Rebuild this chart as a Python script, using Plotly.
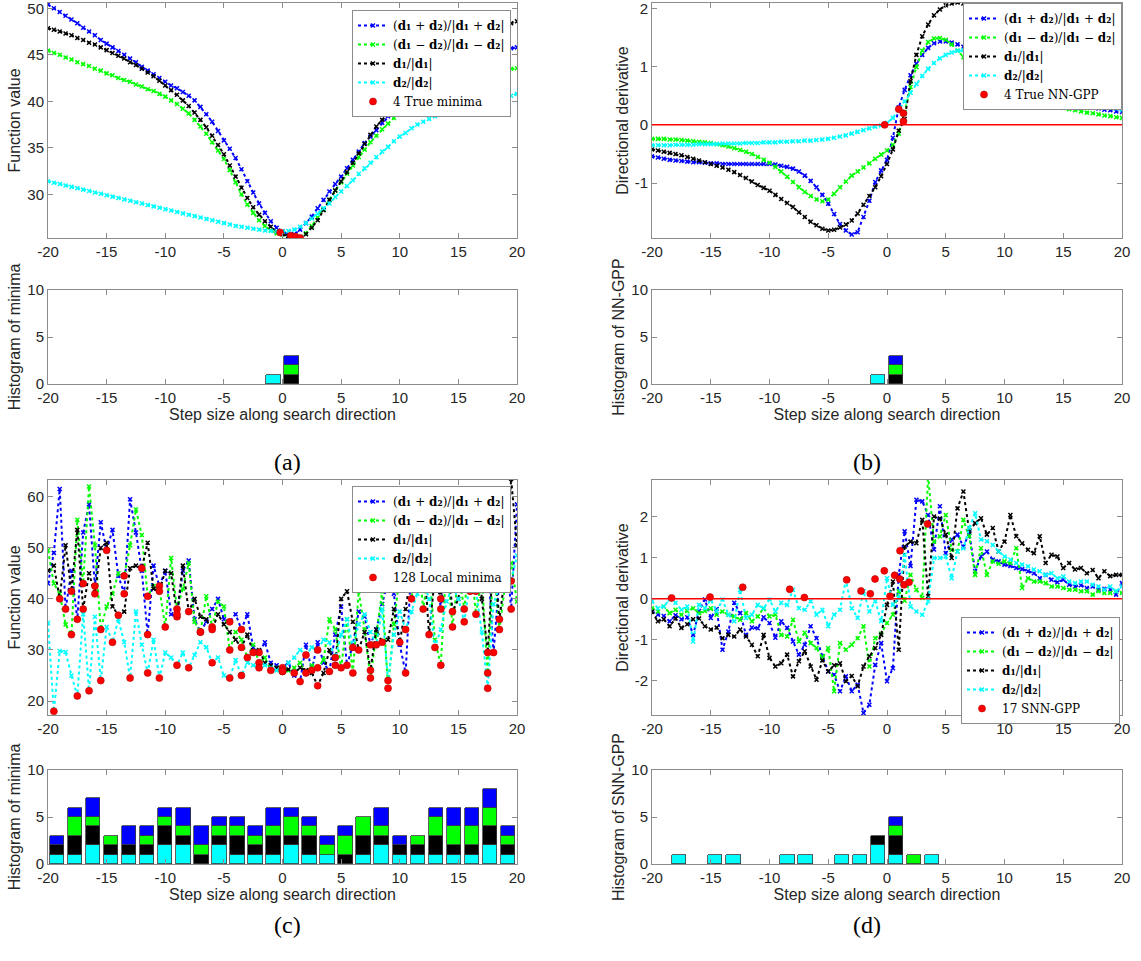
import plotly.graph_objects as go

# ---------------- data ----------------
step = [-20.0, -19.5, -19.0, -18.5, -18.0, -17.5, -17.0, -16.5, -16.0, -15.5,
        -15.0, -14.5, -14.0, -13.5, -13.0, -12.5, -12.0, -11.5, -11.0, -10.5,
        -10.0, -9.5, -9.0, -8.5, -8.0, -7.5, -7.0, -6.5, -6.0, -5.5,
        -5.0, -4.5, -4.0, -3.5, -3.0, -2.5, -2.0, -1.5, -1.0, -0.5,
        0.0, 0.5, 1.0, 1.5, 2.0, 2.5, 3.0, 3.5, 4.0, 4.5,
        5.0, 5.5, 6.0, 6.5, 7.0, 7.5, 8.0, 8.5, 9.0, 9.5,
        10.0, 10.5, 11.0, 11.5, 12.0, 12.5, 13.0, 13.5, 14.0, 14.5,
        15.0, 15.5, 16.0, 16.5, 17.0, 17.5, 18.0, 18.5, 19.0, 19.5, 20.0]

bin_centers = [-19.23, -17.69, -16.15, -14.62, -13.08, -11.54, -10.0, -8.46, -6.92, -5.38,
               -3.85, -2.31, -0.77, 0.77, 2.31, 3.85, 5.38, 6.92, 8.46, 10.0,
               11.54, 13.08, 14.62, 16.15, 17.69, 19.23]

x_tickvals = [-20, -15, -10, -5, 0, 5, 10, 15, 20]
x_ticktext = ['-20', '-15', '-10', '-5', '0', '5', '10', '15', '20']

# panel (a): function value along smooth directions
a_sum = [50.4, 50.0, 49.6, 49.2, 48.8, 48.4, 47.9, 47.5, 47.1, 46.6,
         46.2, 45.8, 45.4, 45.0, 44.6, 44.2, 43.7, 43.3, 42.9, 42.5,
         42.1, 41.7, 41.4, 41.0, 40.6, 40.1, 39.4, 38.6, 37.8, 36.8,
         35.8, 34.9, 33.9, 32.7, 31.4, 30.2, 29.0, 28.0, 27.1, 26.4,
         26.0, 25.7, 25.7, 26.2, 26.9, 27.6, 28.5, 29.4, 30.3, 31.1,
         31.9, 32.8, 33.7, 34.6, 35.5, 36.2, 36.9, 37.7, 38.4, 39.0,
         39.6, 40.2, 40.8, 41.3, 41.8, 42.2, 42.6, 43.0, 43.3, 43.7,
         44.0, 44.2, 44.5, 44.7, 44.9, 45.1, 45.3, 45.4, 45.6, 45.7, 45.8]
a_diff = [45.45, 45.2, 45.0, 44.7, 44.5, 44.2, 44.0, 43.8, 43.5, 43.3,
          43.0, 42.8, 42.5, 42.3, 42.1, 41.8, 41.6, 41.3, 41.1, 40.8,
          40.5, 40.1, 39.7, 39.2, 38.7, 38.0, 37.3, 36.5, 35.6, 34.7,
          33.8, 32.6, 31.3, 30.0, 28.9, 28.0, 27.2, 26.6, 26.1, 25.8,
          25.7, 25.5, 25.4, 25.4, 25.8, 26.6, 27.5, 28.4, 29.4, 30.4,
          31.3, 32.2, 33.1, 34.0, 34.8, 35.6, 36.3, 37.0, 37.6, 38.2,
          38.8, 39.4, 39.9, 40.3, 40.7, 41.0, 41.3, 41.6, 41.9, 42.1,
          42.3, 42.5, 42.7, 42.8, 43.0, 43.1, 43.2, 43.3, 43.4, 43.5, 43.55]
a_d1 = [47.85, 47.7, 47.5, 47.3, 47.1, 46.8, 46.6, 46.3, 46.1, 45.8,
        45.5, 45.2, 44.9, 44.6, 44.2, 43.9, 43.5, 43.1, 42.7, 42.2,
        41.7, 41.2, 40.7, 40.1, 39.5, 38.8, 38.0, 37.2, 36.3, 35.3,
        34.3, 33.1, 31.9, 30.7, 29.6, 28.6, 27.8, 27.1, 26.5, 26.0,
        25.7, 25.5, 25.4, 25.3, 25.7, 26.4, 27.2, 28.3, 29.4, 30.4,
        31.4, 32.4, 33.4, 34.4, 35.4, 36.4, 37.3, 38.0, 38.7, 39.4,
        40.0, 40.6, 41.2, 41.7, 42.3, 42.8, 43.3, 43.8, 44.3, 44.7,
        45.2, 45.6, 46.0, 46.4, 46.8, 47.2, 47.5, 47.8, 48.1, 48.4, 48.6]
a_d2 = [31.4, 31.25, 31.1, 30.95, 30.8, 30.65, 30.5, 30.35, 30.2, 30.05,
        29.9, 29.75, 29.6, 29.45, 29.3, 29.15, 29.0, 28.85, 28.7, 28.55,
        28.4, 28.25, 28.1, 27.95, 27.8, 27.65, 27.5, 27.35, 27.2, 27.05,
        26.9, 26.75, 26.6, 26.5, 26.4, 26.3, 26.2, 26.1, 26.05, 26.0,
        26.0, 26.05, 26.2, 26.5, 26.9, 27.4, 27.9, 28.5, 29.0, 29.7,
        30.3, 30.9, 31.5, 32.2, 32.8, 33.4, 34.0, 34.6, 35.1, 35.7,
        36.2, 36.6, 37.1, 37.5, 37.8, 38.1, 38.4, 38.7, 38.9, 39.1,
        39.3, 39.5, 39.6, 39.8, 39.9, 40.0, 40.1, 40.3, 40.5, 40.6, 40.8]
a_min_x = [-0.2, 0.7, 1.1, 1.5]
a_min_y = [25.9, 25.55, 25.45, 25.3]

# panel (b): directional derivative along smooth directions
b_sum = [-0.54, -0.56, -0.58, -0.60, -0.61, -0.62, -0.63, -0.64, -0.64, -0.65,
         -0.66, -0.66, -0.67, -0.67, -0.67, -0.67, -0.67, -0.67, -0.67, -0.67,
         -0.67, -0.68, -0.70, -0.72, -0.75, -0.80, -0.87, -0.96, -1.07, -1.20,
         -1.35, -1.53, -1.70, -1.81, -1.88, -1.84, -1.58, -1.30, -0.98, -0.78,
         -0.60, -0.22, 0.30, 0.60, 0.85, 1.05, 1.20, 1.32, 1.40, 1.43,
         1.43, 1.41, 1.38, 1.34, 1.30, 1.26, 1.22, 1.15, 1.08, 1.01,
         0.95, 0.89, 0.83, 0.77, 0.71, 0.65, 0.60, 0.55, 0.51, 0.47,
         0.43, 0.40, 0.37, 0.34, 0.32, 0.30, 0.28, 0.26, 0.25, 0.23, 0.22]
b_diff = [-0.24, -0.24, -0.24, -0.25, -0.25, -0.26, -0.27, -0.28, -0.29, -0.30,
          -0.31, -0.33, -0.35, -0.37, -0.40, -0.43, -0.46, -0.50, -0.55, -0.60,
          -0.65, -0.72, -0.80, -0.89, -0.98, -1.07, -1.15, -1.22, -1.28, -1.31,
          -1.28, -1.18, -1.07, -0.97, -0.87, -0.80, -0.73, -0.66, -0.58, -0.51,
          -0.44, -0.34, -0.15, 0.22, 0.65, 0.99, 1.27, 1.42, 1.48, 1.49,
          1.46, 1.38, 1.27, 1.16, 1.05, 0.95, 0.85, 0.76, 0.68, 0.62,
          0.56, 0.52, 0.48, 0.45, 0.42, 0.40, 0.37, 0.35, 0.33, 0.31,
          0.29, 0.27, 0.25, 0.23, 0.21, 0.20, 0.18, 0.16, 0.15, 0.13, 0.12]
b_d1 = [-0.42, -0.44, -0.46, -0.48, -0.50, -0.52, -0.55, -0.58, -0.61, -0.64,
        -0.67, -0.70, -0.73, -0.77, -0.81, -0.86, -0.91, -0.97, -1.03, -1.08,
        -1.13, -1.20, -1.27, -1.34, -1.41, -1.50, -1.58, -1.66, -1.72, -1.78,
        -1.81, -1.80, -1.76, -1.71, -1.64, -1.52, -1.37, -1.22, -1.07, -0.88,
        -0.67, -0.42, -0.10, 0.10, 0.75, 1.20, 1.52, 1.72, 1.88, 1.98,
        2.05, 2.08, 2.10, 2.08, 2.04, 1.97, 1.88, 1.79, 1.70, 1.61,
        1.52, 1.44, 1.36, 1.28, 1.20, 1.12, 1.05, 0.98, 0.92, 0.86,
        0.80, 0.75, 0.70, 0.66, 0.62, 0.58, 0.55, 0.52, 0.50, 0.48, 0.47]
b_d2 = [-0.35, -0.35, -0.35, -0.35, -0.34, -0.34, -0.34, -0.34, -0.33, -0.33,
        -0.33, -0.33, -0.32, -0.32, -0.32, -0.32, -0.31, -0.31, -0.31, -0.30,
        -0.30, -0.30, -0.29, -0.29, -0.28, -0.28, -0.27, -0.27, -0.26, -0.25,
        -0.24, -0.22, -0.20, -0.18, -0.15, -0.12, -0.09, -0.06, -0.03, -0.01,
        0.03, 0.12, 0.25, 0.40, 0.55, 0.70, 0.84, 0.96, 1.06, 1.14,
        1.20, 1.24, 1.27, 1.28, 1.28, 1.26, 1.23, 1.19, 1.15, 1.10,
        1.05, 1.00, 0.95, 0.90, 0.85, 0.80, 0.75, 0.70, 0.65, 0.61,
        0.57, 0.53, 0.49, 0.45, 0.42, 0.39, 0.36, 0.33, 0.30, 0.28, 0.26]
b_gpp_x = [-0.2, 1.0, 1.4, 1.4]
b_gpp_y = [0.0, 0.27, 0.2, 0.06]

# panel (c): function value along noisy directions
c_sum = [43.0, 49.0, 61.5, 38.0, 45.5, 36.0, 53.0, 58.5, 42.5, 55.0,
         49.5, 53.5, 44.5, 41.0, 59.5, 53.0, 45.5, 33.0, 46.5, 42.5,
         45.5, 37.0, 36.5, 45.5, 47.5, 36.0, 33.5, 35.5, 38.0, 40.0,
         36.0, 35.5, 37.0, 34.0, 37.0, 30.5, 29.5, 31.5, 27.5, 27.0,
         26.5, 27.5, 25.0, 23.8, 31.0, 26.0, 31.5, 27.5, 25.8, 33.0,
         38.5, 27.0, 31.0, 37.5, 36.5, 31.0, 34.0, 39.0, 43.5, 41.0,
         31.0, 25.5, 47.0, 52.0, 42.5, 55.0, 48.0, 38.0, 50.0, 44.5,
         54.0, 46.0, 52.0, 41.5, 56.0, 48.0, 29.5, 44.0, 52.0, 38.0, 58.5]
c_diff = [49.5, 43.0, 41.0, 35.0, 33.0, 55.5, 43.0, 62.0, 50.5, 34.0,
          38.5, 41.0, 45.0, 44.5, 50.5, 57.5, 52.5, 40.5, 42.5, 42.0,
          34.5, 48.0, 38.0, 42.0, 47.0, 35.5, 33.5, 40.5, 34.5, 39.5,
          38.5, 30.0, 33.5, 32.0, 28.5, 31.0, 27.5, 28.5, 26.0, 26.5,
          25.8, 26.0, 26.5, 27.5, 25.5, 27.0, 26.5, 28.0, 36.0, 34.0,
          26.5, 36.0, 25.5, 41.5, 34.0, 24.5, 33.0, 41.5, 22.5, 35.0,
          45.0, 47.0, 40.0, 50.0, 38.0, 46.0, 32.0, 27.0, 48.0, 34.5,
          45.0, 38.0, 48.5, 37.0, 44.0, 25.5, 47.0, 34.0, 43.0, 47.0, 39.5]
c_d1 = [45.5, 46.5, 40.0, 50.5, 41.5, 53.5, 38.0, 45.0, 41.0, 50.0,
        51.0, 38.5, 36.8, 37.5, 46.0, 46.5, 46.0, 51.0, 42.0, 41.5,
        45.5, 45.0, 37.0, 46.5, 37.5, 40.0, 36.5, 36.0, 34.0, 37.0,
        35.0, 33.5, 32.0, 30.5, 33.0, 29.5, 30.0, 27.5, 27.0, 26.5,
        26.0, 26.2, 25.5, 26.5, 26.0, 25.5, 23.0, 25.5, 30.0, 27.0,
        40.0, 41.5, 35.5, 30.0, 33.5, 26.0, 34.0, 31.5, 32.0, 38.0,
        31.5, 38.0, 45.0, 42.0, 50.0, 33.0, 44.5, 40.0, 50.0, 37.5,
        40.0, 48.0, 41.5, 55.0, 40.0, 29.5, 49.0, 36.0, 45.0, 63.5, 50.5]
c_d2 = [35.3, 18.0, 29.8, 29.6, 25.0, 21.0, 37.0, 22.0, 36.5, 24.0,
        34.5, 31.5, 36.0, 31.5, 24.5, 37.5, 31.0, 25.5, 32.0, 24.5,
        29.5, 28.5, 27.0, 29.5, 26.5, 29.0, 31.5, 30.5, 27.5, 28.5,
        25.0, 24.5, 28.0, 25.0, 27.5, 27.0, 26.5, 27.0, 26.5, 26.0,
        25.8, 27.5, 28.5, 30.0, 29.0, 30.5, 30.0, 32.0, 31.5, 28.5,
        33.0, 36.0, 30.5, 35.0, 37.0, 33.5, 31.0, 38.0, 24.0, 33.0,
        37.5, 34.0, 37.5, 41.0, 43.5, 40.0, 30.5, 34.0, 39.5, 42.5,
        40.0, 35.5, 43.5, 41.5, 33.5, 22.5, 39.0, 42.5, 44.5, 43.5, 48.5]

# panel (d): directional derivative along noisy directions
d_sum = [-0.31, -0.39, -0.42, -0.55, -0.40, -0.50, -0.45, -0.88, -0.30, -0.02,
         -0.47, -0.25, -1.24, -0.80, -0.10, -0.35, -0.88, -0.70, -0.72, -0.45,
         -0.59, -0.95, -0.55, -0.71, -1.04, -1.36, -1.12, -0.67, -0.96, -1.40,
         -1.77, -1.85, -2.25, -1.89, -2.25, -2.09, -2.78, -2.58, -1.61, -1.08,
         -2.01, -1.69, 0.58, 1.64, 0.80, 2.41, 2.37, 2.04, 1.20, 2.25,
         1.11, 1.44, 1.56, 1.27, 1.60, 0.67, 1.03, 1.15, 0.95, 0.91,
         0.83, 0.80, 0.75, 0.72, 0.67, 0.62, 0.50, 0.58, 0.46, 0.40,
         0.46, 0.34, 0.30, 0.33, 0.26, 0.30, 0.22, 0.24, 0.22, 0.10, 0.38]
d_diff = [-0.23, -0.31, -0.19, -0.35, -0.27, -0.39, -0.30, -0.23, -0.35, -0.30,
          -0.23, -0.39, -0.31, -0.39, -0.43, -0.51, -0.35, -0.55, -0.43, -0.23,
          -0.43, -0.39, -0.88, -0.92, -0.51, -1.04, -0.83, -1.08, -1.20, -1.44,
          -1.20, -2.25, -1.08, -1.24, -1.12, -0.96, -0.67, -1.65, -0.96, -0.85,
          -0.59, -0.39, 0.18, -0.05, 0.58, 0.22, 0.02, 3.00, 1.39, 1.52,
          2.04, 1.19, 1.15, 1.92, 1.52, 0.58, 1.23, 0.58, 0.91, 0.85,
          0.91, 0.87, 1.23, 0.26, 0.50, 0.42, 0.42, 0.38, 0.30, 0.30,
          0.26, 0.22, 0.22, 0.18, 0.18, 0.10, 0.18, 0.14, 0.14, 0.18, 0.14]
d_d1 = [-0.31, -0.55, -0.50, -0.67, -0.48, -0.71, -0.62, -0.50, -0.48, -0.67,
        -0.75, -0.70, -0.96, -0.88, -0.92, -0.75, -0.92, -1.12, -1.40, -0.88,
        -1.44, -1.65, -1.57, -1.36, -1.89, -1.52, -1.28, -1.65, -1.97, -1.50,
        -1.77, -1.62, -1.57, -2.01, -1.88, -2.13, -1.65, -1.40, -1.20, -0.88,
        -0.15, 0.42, -1.24, 1.27, 1.39, 1.35, 1.92, 0.06, 2.00, 1.95,
        1.56, 0.99, 2.20, 2.61, 1.64, 1.84, 1.96, 1.56, 1.72, 1.15,
        1.39, 2.04, 1.52, 1.35, 1.19, 1.11, 1.52, 0.87, 1.07, 1.03,
        0.75, 0.87, 0.71, 0.75, 0.62, 0.70, 0.50, 0.67, 0.55, 0.58, 0.58]
d_d2 = [-0.06, -0.23, -0.19, -0.02, -0.10, -0.27, -0.19, -1.04, -0.15, -0.23,
        -0.02, -0.31, -0.02, -0.39, -0.55, 0.22, -0.47, -0.39, -0.15, -0.23,
        -0.02, -0.31, -0.10, -0.15, 0.22, -0.23, -0.27, -0.06, -0.39, -0.27,
        -0.67, -0.39, -0.27, 0.46, -0.23, -0.47, 0.18, -0.31, -0.06, -0.55,
        0.50, -0.15, 0.02, 1.07, -0.19, -0.31, -0.39, -0.06, 0.99, 0.99,
        1.03, 0.50, 1.15, 1.23, 1.72, 2.08, 1.44, 1.40, 1.31, 1.15,
        1.03, 0.95, 0.87, 0.83, 0.79, 0.71, 0.67, 0.58, 0.62, 0.50,
        0.54, 0.42, 0.38, 0.42, 0.42, 0.34, 0.30, 0.22, 0.30, 0.18, 0.30]
d_gpp_x = [-18.33, -15.06, -12.28, -8.28, -7.03, -3.43, -2.21, -1.42, -1.02, -0.23,
           0.26, 0.65, 1.11, 1.08, 1.45, 1.87, 3.46]
d_gpp_y = [0.02, 0.04, 0.28, 0.23, 0.03, 0.46, 0.19, 0.12, 0.48, 0.68,
           0.06, 0.57, 1.17, 0.48, 0.34, 0.40, 1.82]

# histograms (26 bins), stacked bottom-to-top: d2 (cyan), d1 (black), diff (green), sum (blue)
ha_d2 = [0]*12 + [1] + [0]*13
ha_d1 = [0]*13 + [1] + [0]*12
ha_diff = [0]*13 + [1] + [0]*12
ha_sum = [0]*13 + [1] + [0]*12

hb_d2 = [0]*12 + [1] + [0]*13
hb_d1 = [0]*13 + [1] + [0]*12
hb_diff = [0]*13 + [1] + [0]*12
hb_sum = [0]*13 + [1] + [0]*12

hc_d2 = [1, 1, 2, 1, 1, 1, 2, 2, 0, 2, 1, 1, 1, 2, 1, 1, 0, 1, 2, 1, 1, 1, 1, 1, 2, 1]
hc_d1 = [1, 2, 2, 1, 1, 1, 2, 1, 1, 1, 2, 1, 2, 1, 2, 0, 1, 2, 1, 1, 1, 2, 1, 1, 2, 1]
hc_diff = [0, 2, 1, 1, 0, 1, 1, 1, 1, 1, 1, 1, 1, 2, 1, 1, 2, 2, 1, 0, 1, 2, 2, 2, 2, 1]
hc_sum = [1, 1, 2, 0, 2, 1, 1, 2, 2, 1, 1, 1, 2, 1, 1, 1, 1, 0, 2, 1, 0, 1, 2, 2, 2, 1]

hd_d2 = [0, 1, 0, 1, 1, 0, 0, 1, 1, 0, 1, 1, 2, 1, 0, 1, 0, 0, 0, 0, 0, 0, 0, 0, 0, 0]
hd_d1 = [0]*12 + [1, 2] + [0]*12
hd_diff = [0]*13 + [1, 1] + [0]*11
hd_sum = [0]*13 + [1] + [0]*12

# ---------------- style ----------------
BLUE, GREEN, BLACK, CYAN, RED = '#0000ff', '#00ff00', '#000000', '#00ffff', '#ff0000'
AX = '#8c8c8c'
SANS = 'Liberation Sans, Arial, sans-serif'
SERIF = 'DejaVu Serif, Liberation Serif, serif'
CAPSERIF = 'Liberation Serif, DejaVu Serif, serif'
BAR_W = 0.8 * 40 / 26

N_SUM = '(<b>d\u2081</b> + <b>d\u2082</b>)/|<b>d\u2081</b> + <b>d\u2082</b>|'
N_DIFF = '(<b>d\u2081</b> \u2212 <b>d\u2082</b>)/|<b>d\u2081</b> \u2212 <b>d\u2082</b>|'
N_D1 = '<b>d\u2081</b>/|<b>d\u2081</b>|'
N_D2 = '<b>d\u2082</b>/|<b>d\u2082</b>|'


def local_minima(xs, ys):
    mx, my = [], []
    for i in range(1, len(ys) - 1):
        if ys[i] < ys[i - 1] and ys[i] < ys[i + 1]:
            mx.append(xs[i])
            my.append(ys[i])
    return mx, my


fig = go.Figure()


def add_lines(xa, ya, leg, series, red_x, red_y, red_name):
    for ys, color, name in series:
        fig.add_trace(go.Scatter(
            x=step, y=ys, mode='lines+markers', name=name, legend=leg,
            xaxis=xa, yaxis=ya,
            line=dict(color=color, width=2, dash='dot'),
            marker=dict(symbol='x-thin', size=4, color=color,
                        line=dict(width=1.5, color=color))))
    fig.add_trace(go.Scatter(
        x=red_x, y=red_y, mode='markers', name=red_name, legend=leg,
        xaxis=xa, yaxis=ya,
        marker=dict(symbol='circle', size=7, color=RED,
                    line=dict(width=0.6, color='#b00000'))))


def add_hist(xa, ya, stacks):
    for counts, color in stacks:
        fig.add_trace(go.Bar(
            x=bin_centers, y=[c if c else None for c in counts],
            width=BAR_W, xaxis=xa, yaxis=ya, showlegend=False,
            marker=dict(color=color, line=dict(color='#3a3a3a', width=0.8))))


# (a)
add_lines('x', 'y', 'legend',
          [(a_sum, BLUE, N_SUM), (a_diff, GREEN, N_DIFF), (a_d1, BLACK, N_D1), (a_d2, CYAN, N_D2)],
          a_min_x, a_min_y, '4 True minima')
add_hist('x2', 'y2', [(ha_d2, CYAN), (ha_d1, BLACK), (ha_diff, GREEN), (ha_sum, BLUE)])
# (b)
add_lines('x3', 'y3', 'legend2',
          [(b_sum, BLUE, N_SUM), (b_diff, GREEN, N_DIFF), (b_d1, BLACK, N_D1), (b_d2, CYAN, N_D2)],
          b_gpp_x, b_gpp_y, '4 True NN-GPP')
add_hist('x4', 'y4', [(hb_d2, CYAN), (hb_d1, BLACK), (hb_diff, GREEN), (hb_sum, BLUE)])
# (c)
cmx, cmy = [], []
for s in (c_sum, c_diff, c_d1, c_d2):
    mx, my = local_minima(step, s)
    cmx += mx
    cmy += my
add_lines('x5', 'y5', 'legend3',
          [(c_sum, BLUE, N_SUM), (c_diff, GREEN, N_DIFF), (c_d1, BLACK, N_D1), (c_d2, CYAN, N_D2)],
          cmx, cmy, '128 Local minima')
add_hist('x6', 'y6', [(hc_d2, CYAN), (hc_d1, BLACK), (hc_diff, GREEN), (hc_sum, BLUE)])
# (d)
add_lines('x7', 'y7', 'legend4',
          [(d_sum, BLUE, N_SUM), (d_diff, GREEN, N_DIFF), (d_d1, BLACK, N_D1), (d_d2, CYAN, N_D2)],
          d_gpp_x, d_gpp_y, '17 SNN-GPP')
add_hist('x8', 'y8', [(hd_d2, CYAN), (hd_d1, BLACK), (hd_diff, GREEN), (hd_sum, BLUE)])

# zero lines for derivative panels
for xr, yr in (('x3 domain', 'y3'), ('x7 domain', 'y7')):
    fig.add_shape(type='line', xref=xr, yref=yr, x0=0, x1=1, y0=0, y1=0,
                  line=dict(color=RED, width=1.5), layer='above')

W, H = 1141, 961
LX = [48 / W, 517 / W]
RX = [652 / W, 1122 / W]


def ydom(top, bottom):
    return [1 - bottom / H, 1 - top / H]


TICKFONT = dict(family=SANS, size=15, color='#262626')
TITLEFONT = dict(family=SANS, size=16, color='#262626')


def xaxis(dom, anchor, title=None):
    d = dict(domain=dom, anchor=anchor, range=[-20, 20], tickvals=x_tickvals, ticktext=x_ticktext,
             ticks='inside', ticklen=5, tickcolor=AX, showline=True, linecolor=AX, linewidth=1,
             mirror='ticks', showgrid=False, zeroline=False, automargin=False,
             ticklabeloverflow='allow', tickfont=TICKFONT)
    if title:
        d['title'] = dict(text=title, font=TITLEFONT, standoff=3)
    return d


def yaxis(dom, anchor, rng, tv, tt, title):
    return dict(domain=dom, anchor=anchor, range=rng, tickvals=tv, ticktext=tt,
                ticks='inside', ticklen=5, tickcolor=AX, showline=True, linecolor=AX, linewidth=1,
                mirror='ticks', showgrid=False, zeroline=False, automargin=False,
                ticklabeloverflow='allow', tickfont=TICKFONT,
                title=dict(text=title, font=TITLEFONT, standoff=2))


hist_tv, hist_tt = [0, 5, 10], ['0', '5', '10']
TOP1, HIST1, TOP2, HIST2 = ydom(3, 238), ydom(290, 384), ydom(480, 715), ydom(770, 864)

legend_common = dict(xanchor='right', yanchor='top', bgcolor='white', bordercolor=AX, borderwidth=1,
                     font=dict(family=SERIF, size=12, color='#000000'), tracegroupgap=0,
                     itemwidth=30, traceorder='normal')

CAPFONT = dict(family=CAPSERIF, size=24, color='#000')

fig.update_layout(
    width=W, height=H, margin=dict(l=0, r=0, t=0, b=0),
    paper_bgcolor='white', plot_bgcolor='white', barmode='stack', bargap=0,
    xaxis=xaxis(LX, 'y'), yaxis=yaxis(TOP1, 'x', [25.3, 50.57], [30, 35, 40, 45, 50],
                                      ['30', '35', '40', '45', '50'], 'Function value'),
    xaxis2=xaxis(LX, 'y2', 'Step size along search direction'),
    yaxis2=yaxis(HIST1, 'x2', [0, 10], hist_tv, hist_tt, 'Histogram of minima'),
    xaxis3=xaxis(RX, 'y3'), yaxis3=yaxis(TOP1, 'x3', [-1.94, 2.09], [-1, 0, 1, 2],
                                         ['-1', '0', '1', '2'], 'Directional derivative'),
    xaxis4=xaxis(RX, 'y4', 'Step size along search direction'),
    yaxis4=yaxis(HIST1, 'x4', [0, 10], hist_tv, hist_tt, 'Histogram of NN-GPP'),
    xaxis5=xaxis(LX, 'y5'), yaxis5=yaxis(TOP2, 'x5', [17.26, 63.27], [20, 30, 40, 50, 60],
                                         ['20', '30', '40', '50', '60'], 'Function value'),
    xaxis6=xaxis(LX, 'y6', 'Step size along search direction'),
    yaxis6=yaxis(HIST2, 'x6', [0, 10], hist_tv, hist_tt, 'Histogram of minima'),
    xaxis7=xaxis(RX, 'y7'), yaxis7=yaxis(TOP2, 'x7', [-2.83, 2.89], [-2, -1, 0, 1, 2],
                                         ['-2', '-1', '0', '1', '2'], 'Directional derivative'),
    xaxis8=xaxis(RX, 'y8', 'Step size along search direction'),
    yaxis8=yaxis(HIST2, 'x8', [0, 10], hist_tv, hist_tt, 'Histogram of SNN-GPP'),
    legend=dict(x=511 / W, y=1 - 10 / H, **legend_common),
    legend2=dict(x=1122 / W, y=1 - 3 / H, **legend_common),
    legend3=dict(x=511 / W, y=1 - 486 / H, **legend_common),
    legend4=dict(x=1120 / W, y=1 - 617 / H, **legend_common),
    annotations=[
        dict(text='(a)', x=272 / W, y=1 - 462 / H, xref='paper', yref='paper', showarrow=False, font=CAPFONT),
        dict(text='(b)', x=883 / W, y=1 - 462 / H, xref='paper', yref='paper', showarrow=False, font=CAPFONT),
        dict(text='(c)', x=272 / W, y=1 - 940 / H, xref='paper', yref='paper', showarrow=False, font=CAPFONT),
        dict(text='(d)', x=883 / W, y=1 - 940 / H, xref='paper', yref='paper', showarrow=False, font=CAPFONT),
    ],
)

fig.write_html("out.html", config={'displayModeBar': False},
               post_script="document.body.style.margin='0';document.body.style.overflow='hidden';")
